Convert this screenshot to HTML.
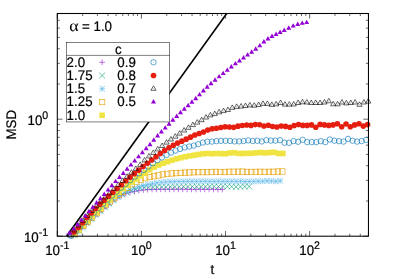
<!DOCTYPE html>
<html><head><meta charset="utf-8"><title>MSD</title>
<style>html,body{margin:0;padding:0;background:#fff;}body{width:399px;height:279px;overflow:hidden;position:relative;font-family:"Liberation Sans",sans-serif;}</style>
</head><body>
<svg width="399" height="279" viewBox="0 0 399 279" style="position:absolute;left:0;top:0">
<defs><g id="plus" fill="none" stroke-width="0.55"><path d="M-2.9,0H2.9M0,-2.9V2.9"/></g>
<g id="cross" fill="none" stroke-width="0.6"><path d="M-2.9,-2.9L2.9,2.9M-2.9,2.9L2.9,-2.9"/></g>
<g id="star" fill="none" stroke-width="0.6"><path d="M-2.9,0H2.9M0,-2.9V2.9M-2.9,-2.9L2.9,2.9M-2.9,2.9L2.9,-2.9"/></g>
<g id="osq" fill="none" stroke-width="0.62"><rect x="-2.7" y="-2.7" width="5.4" height="5.4"/><path d="M-0.25,0h0.5" stroke-width="0.5"/></g>
<g id="fsq" stroke="none"><rect x="-2.8" y="-2.8" width="5.6" height="5.6"/></g>
<g id="ocirc" fill="none" stroke-width="0.62"><circle r="2.7"/><path d="M-0.25,0h0.5" stroke-width="0.5"/></g>
<g id="fcirc" stroke="none"><circle r="2.8"/></g>
<g id="otri" fill="none" stroke-width="0.6"><path d="M0,-3.00L2.60,1.50L-2.60,1.50Z"/><path d="M-0.25,0h0.5" stroke-width="0.5"/></g>
<g id="ftri" stroke="none"><path d="M0,-2.95L2.50,1.48L-2.50,1.48Z"/></g></defs>
<rect width="399" height="279" fill="#fff"/>
<path d="M57.30,236.2v-5.2M57.30,13.5v5.2M82.62,236.2v-2.5M82.62,13.5v2.5M97.43,236.2v-2.5M97.43,13.5v2.5M107.94,236.2v-2.5M107.94,13.5v2.5M116.10,236.2v-2.5M116.10,13.5v2.5M122.76,236.2v-2.5M122.76,13.5v2.5M128.39,236.2v-2.5M128.39,13.5v2.5M133.27,236.2v-2.5M133.27,13.5v2.5M137.57,236.2v-2.5M137.57,13.5v2.5M141.42,236.2v-5.2M141.42,13.5v5.2M166.74,236.2v-2.5M166.74,13.5v2.5M181.55,236.2v-2.5M181.55,13.5v2.5M192.06,236.2v-2.5M192.06,13.5v2.5M200.21,236.2v-2.5M200.21,13.5v2.5M206.87,236.2v-2.5M206.87,13.5v2.5M212.51,236.2v-2.5M212.51,13.5v2.5M217.38,236.2v-2.5M217.38,13.5v2.5M221.69,236.2v-2.5M221.69,13.5v2.5M225.54,236.2v-5.2M225.54,13.5v5.2M250.86,236.2v-2.5M250.86,13.5v2.5M265.67,236.2v-2.5M265.67,13.5v2.5M276.18,236.2v-2.5M276.18,13.5v2.5M284.33,236.2v-2.5M284.33,13.5v2.5M290.99,236.2v-2.5M290.99,13.5v2.5M296.62,236.2v-2.5M296.62,13.5v2.5M301.50,236.2v-2.5M301.50,13.5v2.5M305.81,236.2v-2.5M305.81,13.5v2.5M309.65,236.2v-5.2M309.65,13.5v5.2M334.98,236.2v-2.5M334.98,13.5v2.5M349.79,236.2v-2.5M349.79,13.5v2.5M360.30,236.2v-2.5M360.30,13.5v2.5M368.45,236.2v-2.5M368.45,13.5v2.5M57.3,236.20h5.2M368.45,236.20h-5.2M57.3,200.97h2.5M368.45,200.97h-2.5M57.3,180.37h2.5M368.45,180.37h-2.5M57.3,165.75h2.5M368.45,165.75h-2.5M57.3,154.41h2.5M368.45,154.41h-2.5M57.3,145.14h2.5M368.45,145.14h-2.5M57.3,137.31h2.5M368.45,137.31h-2.5M57.3,130.52h2.5M368.45,130.52h-2.5M57.3,124.53h2.5M368.45,124.53h-2.5M57.3,119.18h5.2M368.45,119.18h-5.2M57.3,83.95h2.5M368.45,83.95h-2.5M57.3,63.35h2.5M368.45,63.35h-2.5M57.3,48.73h2.5M368.45,48.73h-2.5M57.3,37.39h2.5M368.45,37.39h-2.5M57.3,28.12h2.5M368.45,28.12h-2.5M57.3,20.29h2.5M368.45,20.29h-2.5M57.3,13.50h2.5M368.45,13.50h-2.5" stroke="#000" stroke-width="0.6" fill="none"/>
<path d="M66.55,236.2L226.7,13.5" stroke="#000" stroke-width="1.6" fill="none"/>
<g stroke="#9400D3" fill="none"><use href="#plus" x="68.60" y="233.97"/><use href="#plus" x="72.99" y="233.00"/><use href="#plus" x="77.38" y="231.88"/><use href="#plus" x="81.77" y="228.28"/><use href="#plus" x="86.17" y="224.42"/><use href="#plus" x="90.56" y="220.18"/><use href="#plus" x="94.95" y="216.05"/><use href="#plus" x="99.34" y="212.15"/><use href="#plus" x="103.73" y="208.48"/><use href="#plus" x="108.12" y="204.97"/><use href="#plus" x="112.51" y="201.38"/><use href="#plus" x="116.91" y="198.00"/><use href="#plus" x="121.30" y="195.56"/><use href="#plus" x="125.69" y="193.61"/><use href="#plus" x="130.08" y="192.22"/><use href="#plus" x="134.47" y="191.35"/><use href="#plus" x="138.86" y="190.64"/><use href="#plus" x="143.25" y="190.00"/><use href="#plus" x="147.65" y="189.61"/><use href="#plus" x="152.04" y="189.43"/><use href="#plus" x="156.43" y="189.32"/><use href="#plus" x="160.82" y="189.30"/><use href="#plus" x="165.21" y="189.30"/><use href="#plus" x="169.60" y="189.30"/><use href="#plus" x="173.99" y="189.30"/><use href="#plus" x="178.39" y="189.29"/><use href="#plus" x="182.78" y="189.24"/><use href="#plus" x="187.17" y="189.29"/><use href="#plus" x="191.56" y="189.35"/><use href="#plus" x="195.95" y="189.37"/><use href="#plus" x="200.34" y="189.29"/><use href="#plus" x="204.73" y="189.33"/><use href="#plus" x="209.13" y="189.32"/><use href="#plus" x="213.52" y="189.37"/><use href="#plus" x="217.91" y="189.54"/><use href="#plus" x="222.30" y="189.42"/></g>
<g stroke="#009E73" fill="none"><use href="#cross" x="74.37" y="234.71"/><use href="#cross" x="78.74" y="230.72"/><use href="#cross" x="83.11" y="226.82"/><use href="#cross" x="87.48" y="222.70"/><use href="#cross" x="91.85" y="218.53"/><use href="#cross" x="96.22" y="214.42"/><use href="#cross" x="100.60" y="210.47"/><use href="#cross" x="104.97" y="206.82"/><use href="#cross" x="109.34" y="203.34"/><use href="#cross" x="113.71" y="199.86"/><use href="#cross" x="118.08" y="196.75"/><use href="#cross" x="122.45" y="194.32"/><use href="#cross" x="126.82" y="192.37"/><use href="#cross" x="131.19" y="190.87"/><use href="#cross" x="135.56" y="189.45"/><use href="#cross" x="139.93" y="188.21"/><use href="#cross" x="144.30" y="187.58"/><use href="#cross" x="148.67" y="187.43"/><use href="#cross" x="153.04" y="187.33"/><use href="#cross" x="157.41" y="187.17"/><use href="#cross" x="161.79" y="187.00"/><use href="#cross" x="166.16" y="186.87"/><use href="#cross" x="170.53" y="186.77"/><use href="#cross" x="174.90" y="186.70"/><use href="#cross" x="179.27" y="186.66"/><use href="#cross" x="183.64" y="186.63"/><use href="#cross" x="188.01" y="186.57"/><use href="#cross" x="192.38" y="186.56"/><use href="#cross" x="196.75" y="186.59"/><use href="#cross" x="201.12" y="186.69"/><use href="#cross" x="205.49" y="186.69"/><use href="#cross" x="209.86" y="186.48"/><use href="#cross" x="214.23" y="186.50"/><use href="#cross" x="218.60" y="186.59"/><use href="#cross" x="222.98" y="186.35"/><use href="#cross" x="227.35" y="186.46"/><use href="#cross" x="231.72" y="186.62"/><use href="#cross" x="236.09" y="186.82"/><use href="#cross" x="240.46" y="186.76"/><use href="#cross" x="244.83" y="186.56"/><use href="#cross" x="249.20" y="186.51"/></g>
<g stroke="#56B4E9" fill="none"><use href="#star" x="73.20" y="235.02"/><use href="#star" x="77.61" y="232.03"/><use href="#star" x="82.01" y="227.57"/><use href="#star" x="86.42" y="223.37"/><use href="#star" x="90.82" y="219.12"/><use href="#star" x="95.22" y="214.98"/><use href="#star" x="99.63" y="211.00"/><use href="#star" x="104.03" y="207.34"/><use href="#star" x="108.44" y="203.85"/><use href="#star" x="112.84" y="200.34"/><use href="#star" x="117.25" y="197.00"/><use href="#star" x="121.65" y="194.31"/><use href="#star" x="126.05" y="191.97"/><use href="#star" x="130.46" y="189.78"/><use href="#star" x="134.86" y="188.04"/><use href="#star" x="139.27" y="186.71"/><use href="#star" x="143.67" y="185.44"/><use href="#star" x="148.07" y="184.39"/><use href="#star" x="152.48" y="183.59"/><use href="#star" x="156.88" y="182.87"/><use href="#star" x="161.29" y="182.29"/><use href="#star" x="165.69" y="181.98"/><use href="#star" x="170.10" y="181.75"/><use href="#star" x="174.50" y="181.62"/><use href="#star" x="178.90" y="181.56"/><use href="#star" x="183.31" y="181.43"/><use href="#star" x="187.71" y="181.34"/><use href="#star" x="192.12" y="181.34"/><use href="#star" x="196.52" y="181.34"/><use href="#star" x="200.92" y="181.29"/><use href="#star" x="205.33" y="181.30"/><use href="#star" x="209.73" y="181.40"/><use href="#star" x="214.14" y="181.39"/><use href="#star" x="218.54" y="181.26"/><use href="#star" x="222.95" y="181.34"/><use href="#star" x="227.35" y="181.36"/><use href="#star" x="231.75" y="181.26"/><use href="#star" x="236.16" y="181.36"/><use href="#star" x="240.56" y="181.31"/><use href="#star" x="244.97" y="181.54"/><use href="#star" x="249.37" y="181.49"/><use href="#star" x="253.77" y="181.40"/><use href="#star" x="258.18" y="181.27"/><use href="#star" x="262.58" y="181.22"/><use href="#star" x="266.99" y="180.86"/><use href="#star" x="271.39" y="181.02"/><use href="#star" x="275.80" y="181.28"/><use href="#star" x="280.20" y="180.86"/></g>
<g stroke="#E69F00" fill="none"><use href="#osq" x="74.42" y="234.26"/><use href="#osq" x="78.85" y="230.07"/><use href="#osq" x="83.27" y="225.96"/><use href="#osq" x="87.69" y="221.70"/><use href="#osq" x="92.11" y="217.41"/><use href="#osq" x="96.54" y="213.19"/><use href="#osq" x="100.96" y="209.12"/><use href="#osq" x="105.38" y="205.25"/><use href="#osq" x="109.81" y="201.57"/><use href="#osq" x="114.23" y="198.14"/><use href="#osq" x="118.65" y="194.81"/><use href="#osq" x="123.08" y="191.57"/><use href="#osq" x="127.50" y="187.98"/><use href="#osq" x="131.92" y="184.22"/><use href="#osq" x="136.34" y="181.53"/><use href="#osq" x="140.77" y="179.71"/><use href="#osq" x="145.19" y="178.22"/><use href="#osq" x="149.61" y="177.05"/><use href="#osq" x="154.04" y="176.21"/><use href="#osq" x="158.46" y="175.41"/><use href="#osq" x="162.88" y="174.47"/><use href="#osq" x="167.30" y="173.82"/><use href="#osq" x="171.73" y="173.42"/><use href="#osq" x="176.15" y="173.12"/><use href="#osq" x="180.57" y="172.87"/><use href="#osq" x="185.00" y="172.65"/><use href="#osq" x="189.42" y="172.45"/><use href="#osq" x="193.84" y="172.28"/><use href="#osq" x="198.26" y="172.10"/><use href="#osq" x="202.69" y="172.08"/><use href="#osq" x="207.11" y="172.19"/><use href="#osq" x="211.53" y="171.97"/><use href="#osq" x="215.96" y="171.85"/><use href="#osq" x="220.38" y="171.99"/><use href="#osq" x="224.80" y="172.06"/><use href="#osq" x="229.22" y="171.74"/><use href="#osq" x="233.65" y="171.79"/><use href="#osq" x="238.07" y="171.71"/><use href="#osq" x="242.49" y="171.60"/><use href="#osq" x="246.92" y="171.95"/><use href="#osq" x="251.34" y="171.94"/><use href="#osq" x="255.76" y="171.87"/><use href="#osq" x="260.19" y="171.77"/><use href="#osq" x="264.61" y="171.93"/><use href="#osq" x="269.03" y="171.79"/><use href="#osq" x="273.45" y="171.76"/><use href="#osq" x="277.88" y="171.52"/><use href="#osq" x="282.30" y="171.50"/></g>
<g stroke="#F0E442" fill="#F0E442"><use href="#fsq" x="74.44" y="233.74"/><use href="#fsq" x="78.87" y="229.87"/><use href="#fsq" x="83.31" y="225.39"/><use href="#fsq" x="87.74" y="220.94"/><use href="#fsq" x="92.18" y="216.74"/><use href="#fsq" x="96.61" y="212.46"/><use href="#fsq" x="101.05" y="208.20"/><use href="#fsq" x="105.48" y="204.12"/><use href="#fsq" x="109.92" y="200.14"/><use href="#fsq" x="114.35" y="196.25"/><use href="#fsq" x="118.79" y="192.42"/><use href="#fsq" x="123.22" y="188.60"/><use href="#fsq" x="127.66" y="185.11"/><use href="#fsq" x="132.10" y="182.05"/><use href="#fsq" x="136.53" y="178.96"/><use href="#fsq" x="140.97" y="175.85"/><use href="#fsq" x="145.40" y="172.79"/><use href="#fsq" x="149.84" y="169.74"/><use href="#fsq" x="154.27" y="167.07"/><use href="#fsq" x="158.71" y="165.01"/><use href="#fsq" x="163.14" y="163.28"/><use href="#fsq" x="167.58" y="161.71"/><use href="#fsq" x="172.01" y="160.23"/><use href="#fsq" x="176.45" y="158.84"/><use href="#fsq" x="180.89" y="157.72"/><use href="#fsq" x="185.32" y="156.72"/><use href="#fsq" x="189.76" y="155.90"/><use href="#fsq" x="194.19" y="155.20"/><use href="#fsq" x="198.63" y="154.45"/><use href="#fsq" x="203.06" y="153.76"/><use href="#fsq" x="207.50" y="153.48"/><use href="#fsq" x="211.93" y="153.76"/><use href="#fsq" x="216.37" y="153.49"/><use href="#fsq" x="220.80" y="153.64"/><use href="#fsq" x="225.24" y="153.75"/><use href="#fsq" x="229.67" y="152.98"/><use href="#fsq" x="234.11" y="152.73"/><use href="#fsq" x="238.55" y="153.43"/><use href="#fsq" x="242.98" y="153.50"/><use href="#fsq" x="247.42" y="153.35"/><use href="#fsq" x="251.85" y="153.29"/><use href="#fsq" x="256.29" y="152.79"/><use href="#fsq" x="260.72" y="152.48"/><use href="#fsq" x="265.16" y="152.90"/><use href="#fsq" x="269.59" y="152.54"/><use href="#fsq" x="274.03" y="152.35"/><use href="#fsq" x="278.46" y="153.41"/><use href="#fsq" x="282.90" y="153.49"/></g>
<g stroke="#0072B2" fill="none"><use href="#ocirc" x="71.20" y="236.01"/><use href="#ocirc" x="75.74" y="231.19"/><use href="#ocirc" x="80.28" y="226.66"/><use href="#ocirc" x="84.82" y="222.04"/><use href="#ocirc" x="89.35" y="217.26"/><use href="#ocirc" x="93.89" y="212.61"/><use href="#ocirc" x="98.43" y="208.19"/><use href="#ocirc" x="102.97" y="203.90"/><use href="#ocirc" x="107.51" y="199.72"/><use href="#ocirc" x="112.05" y="195.63"/><use href="#ocirc" x="116.58" y="191.61"/><use href="#ocirc" x="121.12" y="187.69"/><use href="#ocirc" x="125.66" y="183.88"/><use href="#ocirc" x="130.20" y="180.21"/><use href="#ocirc" x="134.74" y="176.68"/><use href="#ocirc" x="139.28" y="173.29"/><use href="#ocirc" x="143.82" y="169.90"/><use href="#ocirc" x="148.35" y="166.50"/><use href="#ocirc" x="152.89" y="163.14"/><use href="#ocirc" x="157.43" y="160.12"/><use href="#ocirc" x="161.97" y="157.46"/><use href="#ocirc" x="166.51" y="154.92"/><use href="#ocirc" x="171.05" y="152.59"/><use href="#ocirc" x="175.58" y="150.62"/><use href="#ocirc" x="180.12" y="148.95"/><use href="#ocirc" x="184.66" y="147.44"/><use href="#ocirc" x="189.20" y="146.50"/><use href="#ocirc" x="193.74" y="145.59"/><use href="#ocirc" x="198.28" y="144.13"/><use href="#ocirc" x="202.82" y="142.56"/><use href="#ocirc" x="207.35" y="141.74"/><use href="#ocirc" x="211.89" y="141.61"/><use href="#ocirc" x="216.43" y="141.14"/><use href="#ocirc" x="220.97" y="140.87"/><use href="#ocirc" x="225.51" y="140.79"/><use href="#ocirc" x="230.05" y="140.94"/><use href="#ocirc" x="234.58" y="141.40"/><use href="#ocirc" x="239.12" y="141.41"/><use href="#ocirc" x="243.66" y="141.02"/><use href="#ocirc" x="248.20" y="140.42"/><use href="#ocirc" x="252.74" y="141.04"/><use href="#ocirc" x="257.28" y="140.80"/><use href="#ocirc" x="261.82" y="141.46"/><use href="#ocirc" x="266.35" y="140.15"/><use href="#ocirc" x="270.89" y="140.59"/><use href="#ocirc" x="275.43" y="140.65"/><use href="#ocirc" x="279.97" y="140.17"/><use href="#ocirc" x="284.51" y="142.74"/><use href="#ocirc" x="289.05" y="142.84"/><use href="#ocirc" x="293.58" y="141.12"/><use href="#ocirc" x="298.12" y="141.78"/><use href="#ocirc" x="302.66" y="139.80"/><use href="#ocirc" x="307.20" y="142.10"/><use href="#ocirc" x="311.74" y="142.10"/><use href="#ocirc" x="316.28" y="142.10"/><use href="#ocirc" x="320.82" y="141.20"/><use href="#ocirc" x="325.35" y="142.10"/><use href="#ocirc" x="329.89" y="139.50"/><use href="#ocirc" x="334.43" y="140.70"/><use href="#ocirc" x="338.97" y="141.20"/><use href="#ocirc" x="343.51" y="141.60"/><use href="#ocirc" x="348.05" y="138.90"/><use href="#ocirc" x="352.58" y="140.70"/><use href="#ocirc" x="357.12" y="141.60"/><use href="#ocirc" x="361.66" y="141.10"/><use href="#ocirc" x="366.20" y="139.90"/></g>
<g stroke="#E51E10" fill="#E51E10"><use href="#fcirc" x="73.92" y="231.99"/><use href="#fcirc" x="78.24" y="227.56"/><use href="#fcirc" x="82.56" y="222.74"/><use href="#fcirc" x="86.88" y="217.59"/><use href="#fcirc" x="91.19" y="213.03"/><use href="#fcirc" x="95.51" y="208.50"/><use href="#fcirc" x="99.83" y="204.14"/><use href="#fcirc" x="104.15" y="200.17"/><use href="#fcirc" x="108.47" y="196.17"/><use href="#fcirc" x="112.79" y="192.22"/><use href="#fcirc" x="117.11" y="188.47"/><use href="#fcirc" x="121.43" y="184.69"/><use href="#fcirc" x="125.74" y="180.82"/><use href="#fcirc" x="130.06" y="177.15"/><use href="#fcirc" x="134.38" y="173.63"/><use href="#fcirc" x="138.70" y="170.13"/><use href="#fcirc" x="143.02" y="166.60"/><use href="#fcirc" x="147.34" y="163.36"/><use href="#fcirc" x="151.66" y="160.06"/><use href="#fcirc" x="155.98" y="156.76"/><use href="#fcirc" x="160.30" y="153.55"/><use href="#fcirc" x="164.61" y="150.55"/><use href="#fcirc" x="168.93" y="147.75"/><use href="#fcirc" x="173.25" y="145.29"/><use href="#fcirc" x="177.57" y="143.10"/><use href="#fcirc" x="181.89" y="141.17"/><use href="#fcirc" x="186.21" y="139.17"/><use href="#fcirc" x="190.53" y="137.17"/><use href="#fcirc" x="194.85" y="134.99"/><use href="#fcirc" x="199.17" y="133.49"/><use href="#fcirc" x="203.48" y="132.06"/><use href="#fcirc" x="207.80" y="130.09"/><use href="#fcirc" x="212.12" y="128.82"/><use href="#fcirc" x="216.44" y="128.24"/><use href="#fcirc" x="220.76" y="127.51"/><use href="#fcirc" x="225.08" y="126.69"/><use href="#fcirc" x="229.40" y="126.98"/><use href="#fcirc" x="233.72" y="127.35"/><use href="#fcirc" x="238.03" y="126.17"/><use href="#fcirc" x="242.35" y="125.52"/><use href="#fcirc" x="246.67" y="125.06"/><use href="#fcirc" x="250.99" y="125.42"/><use href="#fcirc" x="255.31" y="124.61"/><use href="#fcirc" x="259.63" y="124.77"/><use href="#fcirc" x="263.95" y="126.04"/><use href="#fcirc" x="268.27" y="125.26"/><use href="#fcirc" x="272.59" y="126.43"/><use href="#fcirc" x="276.90" y="126.98"/><use href="#fcirc" x="281.22" y="126.11"/><use href="#fcirc" x="285.54" y="126.42"/><use href="#fcirc" x="289.86" y="127.29"/><use href="#fcirc" x="294.18" y="125.55"/><use href="#fcirc" x="298.50" y="124.48"/><use href="#fcirc" x="302.82" y="125.40"/><use href="#fcirc" x="307.14" y="125.40"/><use href="#fcirc" x="311.46" y="124.90"/><use href="#fcirc" x="315.77" y="127.20"/><use href="#fcirc" x="320.09" y="124.40"/><use href="#fcirc" x="324.41" y="124.90"/><use href="#fcirc" x="328.73" y="125.40"/><use href="#fcirc" x="333.05" y="124.90"/><use href="#fcirc" x="337.37" y="123.70"/><use href="#fcirc" x="341.69" y="126.70"/><use href="#fcirc" x="346.01" y="124.00"/><use href="#fcirc" x="350.32" y="126.70"/><use href="#fcirc" x="354.64" y="124.90"/><use href="#fcirc" x="358.96" y="123.70"/><use href="#fcirc" x="363.28" y="126.10"/><use href="#fcirc" x="367.60" y="124.60"/></g>
<g stroke="#000000" fill="none"><use href="#otri" x="70.00" y="235.44"/><use href="#otri" x="74.39" y="230.47"/><use href="#otri" x="78.77" y="225.66"/><use href="#otri" x="83.16" y="220.85"/><use href="#otri" x="87.55" y="215.88"/><use href="#otri" x="91.93" y="210.97"/><use href="#otri" x="96.32" y="206.23"/><use href="#otri" x="100.71" y="201.69"/><use href="#otri" x="105.09" y="197.49"/><use href="#otri" x="109.48" y="193.32"/><use href="#otri" x="113.87" y="188.94"/><use href="#otri" x="118.25" y="184.89"/><use href="#otri" x="122.64" y="180.88"/><use href="#otri" x="127.03" y="176.75"/><use href="#otri" x="131.41" y="172.74"/><use href="#otri" x="135.80" y="168.92"/><use href="#otri" x="140.19" y="164.88"/><use href="#otri" x="144.57" y="160.46"/><use href="#otri" x="148.96" y="156.46"/><use href="#otri" x="153.35" y="152.91"/><use href="#otri" x="157.74" y="149.38"/><use href="#otri" x="162.12" y="146.00"/><use href="#otri" x="166.51" y="142.63"/><use href="#otri" x="170.90" y="139.50"/><use href="#otri" x="175.28" y="136.66"/><use href="#otri" x="179.67" y="133.64"/><use href="#otri" x="184.06" y="130.54"/><use href="#otri" x="188.44" y="127.84"/><use href="#otri" x="192.83" y="125.10"/><use href="#otri" x="197.22" y="122.62"/><use href="#otri" x="201.60" y="120.19"/><use href="#otri" x="205.99" y="117.55"/><use href="#otri" x="210.38" y="115.40"/><use href="#otri" x="214.76" y="114.05"/><use href="#otri" x="219.15" y="112.31"/><use href="#otri" x="223.54" y="111.08"/><use href="#otri" x="227.92" y="109.98"/><use href="#otri" x="232.31" y="107.87"/><use href="#otri" x="236.70" y="106.87"/><use href="#otri" x="241.08" y="106.55"/><use href="#otri" x="245.47" y="106.03"/><use href="#otri" x="249.86" y="105.41"/><use href="#otri" x="254.24" y="105.69"/><use href="#otri" x="258.63" y="105.00"/><use href="#otri" x="263.02" y="103.85"/><use href="#otri" x="267.40" y="103.89"/><use href="#otri" x="271.79" y="104.88"/><use href="#otri" x="276.18" y="104.38"/><use href="#otri" x="280.56" y="103.02"/><use href="#otri" x="284.95" y="104.63"/><use href="#otri" x="289.34" y="104.65"/><use href="#otri" x="293.73" y="104.47"/><use href="#otri" x="298.11" y="103.00"/><use href="#otri" x="302.50" y="102.29"/><use href="#otri" x="306.89" y="102.50"/><use href="#otri" x="311.27" y="103.00"/><use href="#otri" x="315.66" y="103.00"/><use href="#otri" x="320.05" y="103.00"/><use href="#otri" x="324.43" y="102.50"/><use href="#otri" x="328.82" y="101.30"/><use href="#otri" x="333.21" y="104.30"/><use href="#otri" x="337.59" y="104.30"/><use href="#otri" x="341.98" y="102.50"/><use href="#otri" x="346.37" y="103.40"/><use href="#otri" x="350.75" y="103.00"/><use href="#otri" x="355.14" y="102.50"/><use href="#otri" x="359.53" y="104.80"/><use href="#otri" x="363.91" y="102.50"/><use href="#otri" x="368.30" y="101.60"/></g>
<g stroke="#9400D3" fill="#9400D3"><use href="#ftri" x="69.90" y="233.30"/><use href="#ftri" x="73.71" y="229.04"/><use href="#ftri" x="77.53" y="224.76"/><use href="#ftri" x="81.34" y="220.39"/><use href="#ftri" x="85.15" y="215.99"/><use href="#ftri" x="88.97" y="211.63"/><use href="#ftri" x="92.78" y="207.35"/><use href="#ftri" x="96.59" y="203.06"/><use href="#ftri" x="100.41" y="198.73"/><use href="#ftri" x="104.22" y="194.40"/><use href="#ftri" x="108.04" y="190.08"/><use href="#ftri" x="111.85" y="185.79"/><use href="#ftri" x="115.66" y="181.62"/><use href="#ftri" x="119.48" y="177.54"/><use href="#ftri" x="123.29" y="173.42"/><use href="#ftri" x="127.10" y="169.26"/><use href="#ftri" x="130.92" y="165.12"/><use href="#ftri" x="134.73" y="161.00"/><use href="#ftri" x="138.54" y="156.86"/><use href="#ftri" x="142.36" y="152.72"/><use href="#ftri" x="146.17" y="148.69"/><use href="#ftri" x="149.98" y="144.66"/><use href="#ftri" x="153.80" y="140.29"/><use href="#ftri" x="157.61" y="135.91"/><use href="#ftri" x="161.42" y="131.96"/><use href="#ftri" x="165.24" y="128.11"/><use href="#ftri" x="169.05" y="124.17"/><use href="#ftri" x="172.86" y="120.28"/><use href="#ftri" x="176.68" y="116.48"/><use href="#ftri" x="180.49" y="112.78"/><use href="#ftri" x="184.31" y="109.22"/><use href="#ftri" x="188.12" y="105.74"/><use href="#ftri" x="191.93" y="102.31"/><use href="#ftri" x="195.75" y="98.67"/><use href="#ftri" x="199.56" y="94.87"/><use href="#ftri" x="203.37" y="91.04"/><use href="#ftri" x="207.19" y="87.29"/><use href="#ftri" x="211.00" y="83.75"/><use href="#ftri" x="215.07" y="80.23"/><use href="#ftri" x="219.13" y="76.88"/><use href="#ftri" x="223.20" y="73.61"/><use href="#ftri" x="227.27" y="70.33"/><use href="#ftri" x="231.33" y="67.03"/><use href="#ftri" x="235.40" y="63.85"/><use href="#ftri" x="239.47" y="60.92"/><use href="#ftri" x="243.53" y="58.04"/><use href="#ftri" x="247.60" y="55.14"/><use href="#ftri" x="251.67" y="52.18"/><use href="#ftri" x="255.73" y="49.19"/><use href="#ftri" x="259.80" y="45.89"/><use href="#ftri" x="263.87" y="41.98"/><use href="#ftri" x="267.93" y="38.93"/><use href="#ftri" x="272.00" y="36.57"/><use href="#ftri" x="276.07" y="34.46"/><use href="#ftri" x="280.13" y="32.41"/><use href="#ftri" x="284.20" y="30.40"/><use href="#ftri" x="288.70" y="28.15"/><use href="#ftri" x="293.20" y="26.11"/><use href="#ftri" x="297.70" y="24.54"/><use href="#ftri" x="302.20" y="23.33"/><use href="#ftri" x="306.70" y="22.58"/></g>
<rect x="57.3" y="13.5" width="311.15" height="222.70" fill="none" stroke="#000" stroke-width="1.05"/>
<rect x="66.6" y="42.6" width="102.90" height="79.35" fill="#fff" stroke="#000" stroke-width="0.5"/>
<path d="M66.6,55.4H169.5" stroke="#000" stroke-width="0.5"/>
<use href="#plus" x="102.1" y="62.30" stroke="#9400D3" fill="none"/><use href="#cross" x="102.1" y="75.55" stroke="#009E73" fill="none"/><use href="#star" x="102.1" y="88.80" stroke="#56B4E9" fill="none"/><use href="#osq" x="102.1" y="102.05" stroke="#E69F00" fill="none"/><use href="#fsq" x="102.1" y="115.30" stroke="#F0E442" fill="#F0E442"/><use href="#ocirc" x="153.5" y="62.30" stroke="#0072B2" fill="none"/><use href="#fcirc" x="153.5" y="75.55" stroke="#E51E10" fill="#E51E10"/><use href="#otri" x="153.5" y="88.80" stroke="#000000" fill="none"/><use href="#ftri" x="153.5" y="102.05" stroke="#9400D3" fill="#9400D3"/>
<g font-family="Liberation Sans, sans-serif" font-size="13.33" fill="#000" stroke="#000" stroke-width="0.22" opacity="0.99" style="text-rendering:geometricPrecision"><text transform="translate(118.30,53.80) scale(1,1.04)" text-anchor="middle">c</text><text transform="translate(66.60,66.70) scale(1,1.04)" text-anchor="start">2.0</text><text transform="translate(117.30,66.70) scale(1,1.04)" text-anchor="start">0.9</text><text transform="translate(66.60,79.95) scale(1,1.04)" text-anchor="start">1.75</text><text transform="translate(117.30,79.95) scale(1,1.04)" text-anchor="start">0.8</text><text transform="translate(66.60,93.20) scale(1,1.04)" text-anchor="start">1.5</text><text transform="translate(117.30,93.20) scale(1,1.04)" text-anchor="start">0.7</text><text transform="translate(66.60,106.45) scale(1,1.04)" text-anchor="start">1.25</text><text transform="translate(117.30,106.45) scale(1,1.04)" text-anchor="start">0.5</text><text transform="translate(66.60,119.70) scale(1,1.04)" text-anchor="start">1.0</text><text transform="translate(69.3,30.9) scale(1.12,1.0)" font-family="Liberation Serif, serif" font-size="16" stroke-width="0.08">α</text><text transform="translate(81.90,30.80) scale(1,1.04)" text-anchor="start">=</text><text transform="translate(93.50,30.80) scale(1,1.04)" text-anchor="start">1.0</text><text transform="translate(212.30,274.30) scale(1,1.04)" text-anchor="middle">t</text><text transform="translate(16.2,124.8) rotate(-90) scale(1,1.04)" text-anchor="middle">MSD</text><text transform="translate(48.20,242.20) scale(1,1.04)" text-anchor="end">10<tspan font-size="10.6" dy="-6.2">-1</tspan></text><text transform="translate(48.20,125.18) scale(1,1.04)" text-anchor="end">10<tspan font-size="10.6" dy="-6.2">0</tspan></text><text transform="translate(57.30,255.40) scale(1,1.04)" text-anchor="middle">10<tspan font-size="10.6" dy="-6.2">-1</tspan></text><text transform="translate(141.42,255.40) scale(1,1.04)" text-anchor="middle">10<tspan font-size="10.6" dy="-6.2">0</tspan></text><text transform="translate(225.54,255.40) scale(1,1.04)" text-anchor="middle">10<tspan font-size="10.6" dy="-6.2">1</tspan></text><text transform="translate(309.65,255.40) scale(1,1.04)" text-anchor="middle">10<tspan font-size="10.6" dy="-6.2">2</tspan></text></g>
</svg>
</body></html>
